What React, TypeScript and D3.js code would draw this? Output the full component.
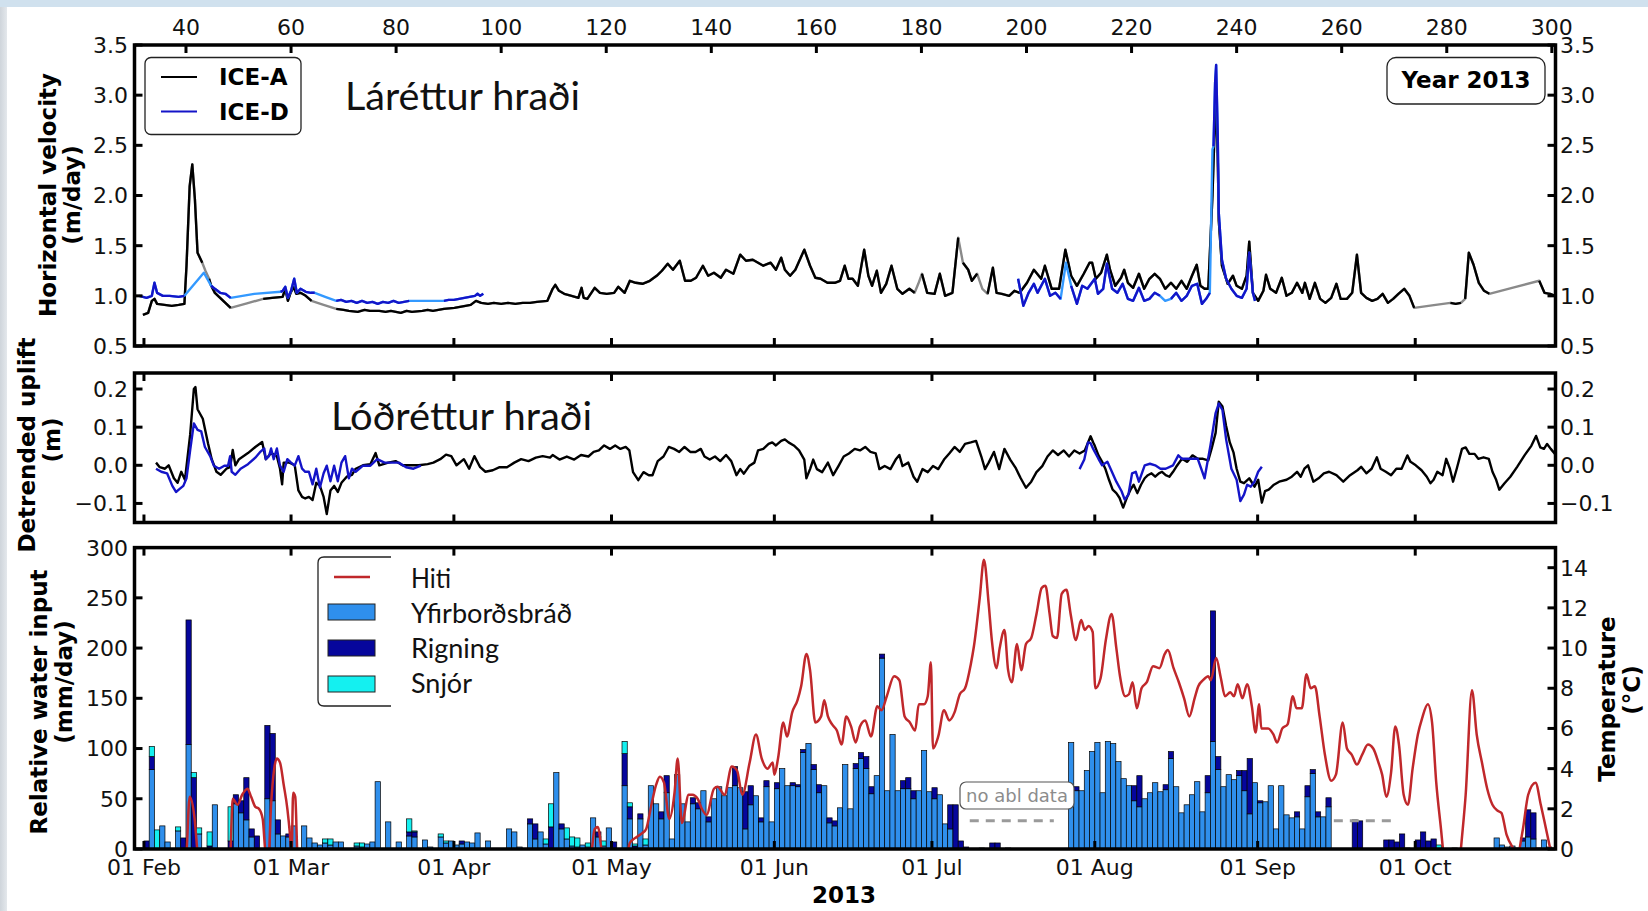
import React from "react";
import * as d3 from "d3";

type P3 = [number, number, number];
type P2 = [number, number];

// ---------- axis ticks ----------
const dayTicks = [40, 60, 80, 100, 120, 140, 160, 180, 200, 220, 240, 260, 280, 300];
const monthDays = [32, 60, 91, 121, 152, 182, 213, 244, 274];
const monthLabels = ["01 Feb", "01 Mar", "01 Apr", "01 May", "01 Jun", "01 Jul", "01 Aug", "01 Sep", "01 Oct"];
const velTicks = [0.5, 1.0, 1.5, 2.0, 2.5, 3.0, 3.5];
const upliftTicks = [-0.1, 0.0, 0.1, 0.2];
const waterTicks = [0, 50, 100, 150, 200, 250, 300];
const tempTicks = [0, 2, 4, 6, 8, 10, 12, 14];

// ---------- daily water input (mm/day), day of year 32..299 ----------
const barStartDay = 32;
const melt = [
  0, 79, 0, 23, 7, 0, 18, 0, 104, 0,
  15, 0, 0, 44, 0, 0, 0, 45, 36, 29,
  12, 0, 0, 50, 48, 15, 13, 12, 23, 0,
  23, 11, 6, 4, 6, 4, 7, 7, 0, 0,
  3, 2, 5, 7, 67, 0, 27, 0, 7, 0,
  13, 12, 0, 9, 2, 0, 12, 6, 8, 4,
  5, 7, 6, 16, 0, 8, 0, 0, 0, 20,
  17, 2, 0, 25, 10, 17, 5, 0, 76, 20,
  10, 3, 2, 4, 2, 31, 12, 3, 21, 0,
  0, 63, 30, 0, 30, 4, 63, 45, 30, 56,
  10, 74, 45, 27, 45, 40, 58, 27, 50, 62,
  53, 61, 63, 61, 20, 44, 53, 27, 62, 27,
  60, 80, 63, 63, 62, 96, 105, 79, 56, 63,
  26, 23, 41, 84, 40, 80, 90, 80, 55, 73,
  190, 58, 114, 58, 60, 60, 50, 58, 98, 57,
  50, 54, 25, 20, 0, 0, 0, 0, 0, 0,
  0, 0, 0, 0, 0, 0, 0, 0, 0, 0,
  0, 0, 0, 0, 0, 0, 106, 58, 58, 78,
  97, 106, 56, 107, 105, 87, 70, 63, 48, 42,
  50, 56, 66, 57, 59, 90, 62, 36, 44, 54,
  67, 37, 56, 107, 79, 62, 74, 69, 73, 58,
  35, 66, 46, 47, 63, 20, 63, 34, 31, 32,
  20, 52, 75, 32, 32, 42, 0, 0, 0, 0,
  0, 0, 0, 0, 0, 0, 0, 0, 0, 0,
  0, 0, 0, 0, 0, 0, 0, 0, 0, 0,
  0, 0, 0, 0, 0, 0, 0, 11, 4, 2,
  3, 1, 8, 12, 10, 1, 9, 2,
];
const rain = [
  8, 13, 0, 0, 0, 0, 0, 11, 124, 71,
  0, 0, 3, 0, 0, 0, 8, 9, 12, 42,
  8, 13, 0, 73, 67, 14, 0, 3, 0, 0,
  0, 0, 0, 0, 0, 0, 0, 0, 0, 0,
  0, 0, 0, 0, 0, 0, 0, 0, 0, 0,
  4, 5, 0, 0, 0, 0, 0, 0, 0, 0,
  3, 0, 0, 0, 0, 0, 0, 0, 0, 0,
  0, 0, 0, 5, 15, 0, 0, 22, 0, 5,
  0, 0, 0, 0, 0, 0, 5, 0, 0, 7,
  0, 32, 12, 3, 5, 0, 0, 0, 7, 17,
  0, 0, 0, 0, 6, 6, 0, 5, 0, 0,
  0, 0, 19, 0, 37, 19, 0, 4, 6, 0,
  6, 0, 0, 3, 2, 3, 0, 5, 8, 0,
  5, 5, 0, 0, 0, 5, 6, 12, 7, 0,
  4, 0, 0, 0, 8, 11, 8, 0, 0, 0,
  11, 0, 0, 24, 44, 8, 2, 0, 0, 1,
  0, 6, 6, 0, 1, 0, 0, 0, 0, 0,
  0, 0, 0, 0, 0, 0, 0, 4, 0, 0,
  0, 0, 0, 0, 0, 0, 0, 0, 15, 31,
  0, 0, 0, 0, 5, 7, 0, 0, 0, 0,
  0, 0, 17, 130, 13, 0, 0, 0, 5, 20,
  55, 0, 2, 0, 0, 0, 0, 0, 0, 5,
  0, 11, 4, 5, 0, 9, 0, 0, 0, 0,
  29, 28, 0, 0, 0, 0, 9, 9, 7, 15,
  1, 0, 9, 17, 8, 10, 0, 0, 0, 1,
  0, 0, 0, 0, 0, 0, 0, 0, 0, 0,
  0, 0, 3, 27, 26, 0, 0, 0,
];
const snow = [
  0, 10, 19, 0, 0, 0, 4, 0, 0, 5,
  6, 0, 14, 0, 0, 0, 34, 0, 0, 0,
  0, 0, 0, 0, 0, 0, 0, 0, 0, 0,
  0, 0, 0, 0, 4, 6, 0, 0, 0, 0,
  3, 4, 0, 0, 0, 0, 0, 0, 0, 0,
  13, 1, 0, 0, 0, 0, 3, 2, 0, 0,
  0, 0, 0, 0, 0, 0, 0, 0, 0, 0,
  0, 0, 0, 0, 0, 0, 5, 23, 0, 0,
  11, 9, 9, 0, 4, 0, 0, 5, 0, 0,
  0, 12, 4, 2, 0, 6, 0, 0, 0, 0,
  0, 0, 0, 0, 0, 0, 0, 0, 0, 0,
  0, 0, 0, 0, 0, 0, 0, 0, 0, 0,
  0, 0, 0, 0, 0, 0, 0, 0, 0, 0,
  0, 0, 0, 0, 0, 0, 0, 0, 0, 0,
  0, 0, 0, 0, 0, 0, 0, 0, 0, 0,
  0, 0, 0, 0, 0, 0, 0, 0, 0, 0,
  0, 0, 0, 0, 0, 0, 0, 0, 0, 0,
  0, 0, 0, 0, 0, 0, 0, 0, 0, 0,
  0, 0, 0, 0, 0, 0, 0, 0, 0, 0,
  0, 0, 0, 0, 0, 0, 0, 0, 0, 0,
  0, 0, 0, 0, 0, 0, 0, 0, 0, 0,
  0, 0, 0, 0, 0, 0, 0, 0, 0, 0,
  0, 0, 0, 0, 0, 0, 0, 0, 0, 0,
  0, 0, 0, 0, 0, 0, 0, 0, 0, 0,
  0, 0, 0, 0, 0, 0, 4, 0, 0, 0,
  0, 0, 0, 0, 0, 0, 0, 0, 0, 0,
  0, 0, 0, 0, 0, 0, 0, 0,
];

// ---------- air temperature (day, °C) ----------
const temperature: P2[] = [
  [38.5, -1.5], [40.0, -0.5], [40.7, 2.6], [41.6, 1.6], [42.3, -0.5], [43, -2],
  [48.3, -1], [48.9, 2.5], [49.8, 2.2], [50.7, 2.7], [51.7, 3.0], [52.4, 2.6], [53.2, 2.1], [53.9, 2.0], [54.6, 1.5], [55.2, -0.3], [55.7, -0.5],
  [56.2, 2.2], [56.8, 4.0], [57.3, 4.5], [57.9, 4.3], [58.6, 3.2], [59.3, 2.0], [59.8, 0.7], [60.1, -0.3], [60.4, 2.8], [60.8, 2.6], [61.2, -0.3], [62, -3],
  [116, -3], [117.2, -0.2], [117.8, 1.0], [118.4, 1.1], [119.2, -0.3], [120, -2],
  [123.5, -1], [124.5, 0.3], [125.8, 0.6], [126.9, 0.8], [127.6, 1.0], [128.6, 2.2], [129.5, 3.2], [130.2, 3.6], [131, 3.3], [132, 1.5], [133, 2.8], [133.6, 4.5], [134.4, 1.3],
  [135.7, 2.7], [136.4, 2.7], [137.4, 2.5], [138.2, 2.0], [139.1, 1.7], [140.5, 3.0], [141.2, 3.1], [142.5, 2.7], [143.9, 4.1], [144.9, 3.9], [145.9, 2.7], [147.3, 4.3],
  [148.5, 5.7], [149.6, 4.5], [150.7, 4.0], [151.7, 4.3], [152.0, 3.7], [152.7, 4.5], [153.7, 6.3], [154.4, 5.6], [155.4, 6.8], [156.4, 7.4], [157.1, 8.1], [158.1, 9.7],
  [158.8, 8.9], [159.8, 6.3], [160.9, 6.6], [161.5, 7.4], [162.2, 6.6], [163.0, 6.2], [163.9, 5.9], [164.8, 5.2], [165.7, 6.6], [166.6, 6.1], [167.5, 5.3], [168.3, 6.1],
  [169.3, 6.4], [170.4, 5.6], [171.6, 7.1], [172.4, 6.9], [173.4, 7.6], [174.8, 8.6], [175.8, 8.4], [176.8, 6.6], [177.8, 6.3], [178.8, 5.9], [179.5, 7.2], [180.5, 7.2],
  [181.2, 7.6], [181.8, 9.3], [182.2, 5.0], [183.2, 5.6], [184.3, 6.9], [185.3, 6.4], [186.3, 6.8], [187.3, 7.7], [188.3, 8.0], [189.4, 9.2], [190.0, 10.1], [191.1, 12.5],
  [191.9, 14.4], [192.8, 12.2], [193.4, 10.4], [194.3, 9.0], [194.9, 10.0], [195.8, 10.9], [196.5, 8.9], [197.2, 8.3], [198.2, 10.2], [199.0, 8.9], [199.9, 10.2], [200.9, 10.5],
  [201.9, 11.7], [202.9, 13.0], [203.6, 13.1], [204.4, 11.7], [205.0, 10.6], [205.8, 10.5], [206.7, 12.7], [207.6, 12.9], [208.4, 11.7], [209.4, 10.4], [210.4, 11.4], [211.1, 10.9],
  [211.8, 11.1], [212.6, 10.8], [213.1, 8.0], [214.1, 8.5], [215.1, 10.4], [216.2, 11.7], [217.1, 10.0], [217.8, 8.6], [218.8, 7.6], [219.5, 7.7], [220.2, 8.3], [221.0, 7.0],
  [221.9, 8.0], [222.9, 8.3], [224.1, 9.1], [225.3, 9.0], [226.3, 9.7], [226.9, 9.9], [228.0, 9.0], [229.0, 8.3], [230.0, 7.5], [231.0, 6.6], [232.0, 7.5], [232.7, 8.1],
  [233.6, 8.4], [234.6, 8.6], [235.1, 8.4], [236.1, 9.5], [237.0, 8.5], [237.8, 7.6], [238.8, 7.8], [239.5, 7.6], [240.2, 8.2], [241.1, 7.5], [242.0, 8.2], [242.9, 7.1],
  [243.6, 5.8], [244.3, 7.2], [244.7, 6.0], [246.0, 6.0], [247.0, 5.7], [247.7, 5.3], [248.7, 6.0], [249.7, 6.2], [250.7, 7.6], [251.4, 7.0], [252.4, 7.0], [253.3, 8.7],
  [254.1, 8.0], [254.9, 8.1], [255.8, 6.6], [256.8, 4.7], [258.0, 3.4], [258.9, 3.7], [260.2, 6.3], [261.0, 5.0], [261.9, 4.7], [262.9, 4.2], [263.9, 4.7], [265.0, 5.2],
  [266.0, 5.0], [267.0, 4.3], [267.7, 3.7], [268.5, 2.6], [269.4, 3.8], [270.2, 6.1], [270.9, 5.2], [271.8, 2.7], [272.6, 2.2], [273.5, 4.0], [274.5, 5.7], [275.3, 6.5],
  [276.4, 7.2], [277.2, 6.3], [278.0, 3.3], [278.9, 1.0], [279.4, -0.3], [280.5, -2], [282.1, -2], [282.6, -0.3], [283.6, 2.7], [284.8, 7.9], [285.7, 5.7], [286.7, 4.3],
  [287.7, 3.0], [288.7, 2.2], [289.7, 1.9], [290.4, 1.8], [291.4, 0.7], [292.5, 0.1], [293.5, -0.2], [294.5, 1.0], [295.5, 2.7], [296.9, 3.3], [297.9, 2.2], [298.9, 1.0],
  [299.9, -0.2], [301, -1],
];

// ---------- horizontal velocity (day, m/day, 1 = measured / 0 = interpolated / -1 = break) ----------
const velIceA: P3[] = [
  [31.8, 0.81, 1], [32.8, 0.83, 1], [33.5, 0.95, 1], [34.0, 0.97, 1], [34.5, 0.92, 1], [35.9, 0.91, 1], [37.3, 0.90, 1], [38.6, 0.91, 1], [39.7, 0.92, 1],
  [40.1, 1.30, 1], [40.7, 2.09, 1], [41.2, 2.31, 1], [41.7, 1.96, 1], [42.2, 1.43, 1], [43.1, 1.33, 1], [43.7, 1.25, 0],
  [44.4, 1.17, 1], [44.8, 1.10, 1], [45.5, 1.03, 1], [46.5, 0.98, 1], [47.5, 0.93, 1], [48.5, 0.88, 1], [51.6, 0.925, 0],
  [54.7, 0.97, 1], [56.4, 0.98, 1], [58.4, 0.99, 1], [58.9, 1.07, 1], [59.4, 0.95, 1], [59.9, 1.03, 1], [60.5, 1.09, 1], [61.0, 1.02, 1], [61.8, 1.03, 1], [62.8, 1.0, 1], [63.9, 0.95, 1], [66.2, 0.91, 0],
  [68.6, 0.87, 1], [70, 0.86, 1], [71, 0.85, 1], [72.7, 0.84, 1], [74, 0.86, 1], [75, 0.85, 1], [76.8, 0.85, 1], [78, 0.84, 1], [79, 0.85, 1], [80.9, 0.83, 1],
  [82, 0.85, 1], [83, 0.84, 1], [85.0, 0.85, 1], [86, 0.86, 1], [87, 0.85, 1], [89.1, 0.87, 1], [91.1, 0.88, 1], [93.2, 0.90, 1], [94.2, 0.91, 1], [95.2, 0.95, 1],
  [96.2, 0.93, 1], [97.5, 0.92, 1], [98.6, 0.93, 1], [100, 0.92, 1], [101.3, 0.93, 1], [102.7, 0.92, 1], [104.1, 0.93, 1], [105.5, 0.93, 1], [106.8, 0.94, 1], [108.8, 0.95, 1],
  [109.8, 1.07, 1], [110.3, 1.11, 1], [111.0, 1.05, 1], [112.0, 1.02, 1], [113.4, 1.0, 1], [114.7, 0.98, 1], [115.3, 1.08, 1], [115.7, 0.98, 1], [116.4, 0.97, 1], [117.8, 1.08, 1],
  [118.8, 1.03, 1], [120.1, 1.02, 1], [121.5, 1.03, 1], [122.3, 1.09, 1], [123.5, 1.03, 1], [124.5, 1.15, 1], [125.6, 1.13, 1], [126.9, 1.12, 1], [128.3, 1.15, 1], [129.6, 1.20, 1],
  [130.6, 1.25, 1], [131.7, 1.32, 1], [132.7, 1.26, 1], [134.0, 1.35, 1], [135.0, 1.15, 1], [136.1, 1.15, 1], [137.1, 1.18, 1], [138.4, 1.30, 1], [139.4, 1.20, 1], [140.5, 1.23, 1],
  [141.8, 1.18, 1], [142.8, 1.26, 1], [144.2, 1.22, 1], [145.5, 1.41, 1], [146.6, 1.35, 1], [147.9, 1.36, 1], [148.9, 1.33, 1], [149.9, 1.30, 1], [151.3, 1.33, 1], [152.3, 1.26, 1],
  [153.3, 1.38, 1], [154.0, 1.26, 1], [155.0, 1.20, 1], [156.0, 1.26, 1], [157.7, 1.46, 1], [158.8, 1.30, 1], [159.8, 1.18, 1], [160.8, 1.17, 1], [162.1, 1.13, 1], [163.5, 1.13, 1],
  [164.5, 1.15, 1], [165.4, 1.30, 1], [166.1, 1.17, 1], [166.9, 1.17, 1], [167.9, 1.10, 1], [169.1, 1.46, 1], [169.9, 1.20, 1], [170.6, 1.10, 1], [171.5, 1.25, 1], [172.3, 1.03, 1],
  [173.3, 1.12, 1], [174.3, 1.30, 1], [175.4, 1.07, 1], [176.4, 1.02, 1], [177.7, 1.07, 1], [178.7, 1.03, 1], [179.4, 1.12, 0],
  [180.1, 1.22, 1], [181.1, 1.03, 1], [182.5, 1.02, 1], [183.5, 1.22, 1], [184.5, 1.0, 1], [185.9, 1.03, 1], [187.0, 1.58, 1], [187.4, 1.47, 0],
  [187.9, 1.33, 1], [188.9, 1.26, 1], [189.6, 1.15, 1], [190.6, 1.22, 1], [191.6, 1.07, 0],
  [192.6, 1.02, 1], [193.6, 1.28, 1], [194.3, 1.03, 1], [195.3, 1.02, 1], [196.7, 1.0, 1], [197.7, 1.05, 1], [198.7, 1.03, 1], [200.1, 1.13, 1], [201.4, 1.26, 1], [202.8, 1.17, 1],
  [203.5, 1.30, 1], [204.8, 1.07, 1], [206.2, 1.07, 1], [207.4, 1.46, 1], [208.5, 1.20, 1], [209.6, 1.10, 1], [210.9, 1.22, 1], [212.0, 1.33, 1], [212.5, 1.33, 1], [213.2, 1.17, 1],
  [214.2, 1.23, 1], [215.3, 1.41, 1], [215.9, 1.26, 1], [216.9, 1.10, 1], [218.0, 1.18, 1], [218.6, 1.26, 1], [219.3, 1.13, 1], [220.3, 1.08, 1], [221.4, 1.22, 1], [222.4, 1.07, 1],
  [223.4, 1.17, 1], [224.4, 1.22, 1], [225.4, 1.17, 1], [226.4, 1.07, 1], [227.5, 1.13, 1], [228.5, 1.07, 1], [229.5, 1.15, 1], [230.5, 1.07, 1], [231.5, 1.20, 1], [232.4, 1.31, 1],
  [233.1, 1.10, 1], [233.9, 1.07, 1], [234.6, 1.07, 1], [235.4, 2.0, 1], [235.9, 2.8, 1], [236.1, 2.9, 1], [236.4, 2.4, 1], [236.6, 1.75, 1], [237.2, 1.3, 1], [238.3, 1.12, 1],
  [239.3, 1.20, 1], [240.0, 1.10, 1], [241.0, 1.07, 1], [241.9, 1.20, 1], [242.4, 1.54, 1], [243.1, 1.03, 1], [244.1, 0.95, 1], [245.1, 1.05, 1], [245.6, 1.21, 1], [246.4, 1.07, 1],
  [247.5, 1.03, 1], [248.6, 1.18, 1], [249.5, 1.0, 1], [250.5, 1.03, 1], [251.5, 1.13, 1], [252.5, 1.03, 1], [253.0, 1.13, 1], [253.9, 0.97, 1], [254.9, 1.13, 1], [255.9, 0.97, 1],
  [256.9, 0.93, 1], [258.0, 0.98, 1], [259.0, 1.12, 1], [259.8, 0.97, 1], [261.0, 0.97, 1], [262.0, 1.03, 1], [262.9, 1.41, 1], [263.7, 1.03, 1], [264.7, 0.98, 1], [265.8, 0.95, 1],
  [266.8, 0.97, 1], [267.8, 1.02, 1], [268.8, 0.93, 1], [269.8, 0.97, 1], [270.8, 1.02, 1], [271.9, 1.07, 1], [272.9, 1.0, 1], [273.8, 0.88, 1], [277.2, 0.905, 0],
  [280.7, 0.93, 1], [281.7, 0.92, 1], [282.7, 0.93, 1], [283.1, 0.95, 0],
  [283.5, 0.97, 1], [284.2, 1.43, 1], [285.1, 1.31, 1], [286.1, 1.13, 1], [287.1, 1.05, 1], [288.1, 1.02, 1], [292.8, 1.085, 0],
  [297.6, 1.15, 1], [298.6, 1.03, 1], [299.7, 1.02, 1], [300.6, 1.0, 1],
];
const velIceD: P3[] = [
  [31.1, 1.0, 1], [32.5, 0.98, 1], [33.5, 1.0, 1], [34.0, 1.13, 1], [34.5, 1.03, 1], [35.6, 1.0, 1], [36.9, 1.0, 1], [38.6, 0.99, 1], [39.7, 1.0, 1],
  [43.4, 1.23, 0],
  [44.8, 1.10, 1], [45.5, 1.07, 1], [46.5, 1.03, 1], [47.5, 1.02, 1], [48.5, 0.98, 1],
  [53, 1.02, 0],
  [58.0, 1.04, 1], [58.4, 1.05, 1], [58.9, 1.09, 1], [59.4, 0.98, 1], [60.0, 1.05, 1], [60.6, 1.17, 1], [61.1, 1.03, 1], [61.8, 1.07, 1], [62.8, 1.04, 1], [63.8, 1.03, 1], [64.5, 1.03, 1],
  [66.5, 0.99, 0],
  [68.6, 0.95, 1], [69.5, 0.96, 1], [70.5, 0.94, 1], [71.5, 0.95, 1], [72.5, 0.93, 1], [73.5, 0.95, 1], [74.5, 0.93, 1], [75.5, 0.94, 1], [76.5, 0.92, 1], [77.5, 0.94, 1],
  [78.5, 0.93, 1], [79.5, 0.95, 1], [80.5, 0.93, 1], [81.5, 0.94, 1], [82.5, 0.95, 1],
  [86, 0.95, 0],
  [89.1, 0.95, 1], [90, 0.96, 1], [91, 0.96, 1], [92, 0.97, 1], [93, 0.98, 1], [94, 0.99, 1], [95, 1.0, 1], [95.5, 1.02, 1], [96, 1.0, 1], [96.6, 1.02, 1],
  [150, 1.0, -1],
  [198.4, 1.17, 1], [199.4, 0.90, 1], [200.4, 1.03, 1], [201.4, 1.12, 1], [202.1, 1.03, 1], [203.5, 1.17, 1], [204.5, 1.0, 1], [205.5, 1.03, 1], [206.5, 0.97, 1],
  [207.5, 1.33, 0],
  [208.5, 1.10, 1], [209.6, 0.92, 1], [210.6, 1.10, 1], [211.6, 1.07, 1], [213.0, 1.17, 1], [213.6, 1.02, 1], [214.6, 1.07, 1], [215.3, 1.32, 1], [216.3, 1.07, 1], [217.3, 1.03, 1],
  [218.3, 1.12, 1], [219.3, 0.97, 1], [220.3, 0.95, 1], [221.4, 1.08, 1], [222.4, 0.95, 1], [223.4, 0.97, 1], [224.4, 1.03, 1], [225.4, 1.0, 1],
  [226.4, 0.95, 0],
  [227.5, 0.97, 1], [228.5, 1.03, 1], [229.5, 0.95, 1], [230.5, 1.0, 1], [231.5, 1.10, 1], [232.5, 1.12, 1], [233.4, 0.92, 1], [234.2, 0.97, 1], [234.9, 1.03, 1],
  [235.4, 2.46, 0],
  [235.6, 2.49, 1], [235.9, 3.12, 1], [236.1, 3.30, 1], [236.4, 2.62, 1], [236.6, 1.83, 1], [237.2, 1.36, 1], [238.0, 1.17, 1], [239.0, 1.07, 1], [240.0, 1.0, 1],
  [241.0, 0.98, 1], [241.9, 1.07, 1], [242.4, 1.43, 1], [243.1, 1.03, 1], [243.5, 0.95, 1],
];

// ---------- detrended uplift (day, m) ----------
const upliftIceA: P2[] = [
  [34.3, 0.007], [35.0, -0.005], [36.0, -0.009], [36.7, 0.0], [37.7, -0.034], [38.4, -0.046], [39.1, -0.017], [39.8, -0.038], [40.8, 0.081], [41.5, 0.2],
  [41.8, 0.205], [42.2, 0.147], [43.2, 0.122], [44.2, 0.057], [44.9, 0.016], [45.8, -0.017], [46.6, -0.025], [47.7, -0.009], [48.4, -0.005], [48.9, 0.04],
  [49.4, 0.0], [50.1, 0.016], [51.8, 0.032], [53.2, 0.048], [54.5, 0.061], [55.2, 0.016], [56.2, 0.032], [57.3, 0.024], [57.9, -0.009], [58.3, -0.05],
  [58.6, 0.007], [59.7, 0.007], [60.7, 0.0], [61.4, -0.066], [62.1, -0.083], [62.7, -0.087], [63.4, -0.083], [64.1, -0.091], [64.8, -0.046], [65.5, -0.054],
  [66.2, -0.083], [66.8, -0.128], [67.5, -0.066], [68.2, -0.054], [68.9, -0.07], [69.6, -0.046], [70.6, -0.03], [71.6, -0.025], [72.3, -0.009], [73.7, 0.0],
  [75.1, 0.003], [76.1, 0.032], [76.8, 0.0], [78.5, 0.007], [79.9, 0.011], [81.2, 0.0], [82.6, 0.0], [84.3, 0.0], [86.0, 0.003], [87.1, 0.007],
  [88.4, 0.016], [89.5, 0.028], [90.5, 0.024], [91.5, 0.0], [92.9, 0.016], [93.9, -0.009], [94.9, 0.024], [96.0, -0.005], [97.0, -0.017], [98.4, -0.013],
  [99.7, -0.005], [101.1, -0.005], [102.5, 0.007], [103.8, 0.016], [105.2, 0.011], [106.6, 0.02], [107.9, 0.024], [109.3, 0.02], [109.8, 0.027], [111.1, 0.015],
  [112.5, 0.023], [113.9, 0.015], [115.2, 0.027], [116.6, 0.023], [117.6, 0.035], [118.6, 0.039], [119.6, 0.052], [120.7, 0.043], [121.7, 0.052], [122.7, 0.043],
  [123.7, 0.048], [124.4, 0.039], [125.1, -0.018], [126.1, -0.039], [127.1, -0.018], [128.1, -0.026], [128.8, -0.026], [129.8, 0.011], [130.9, 0.023], [131.9, 0.048],
  [132.9, 0.043], [133.9, 0.035], [134.9, 0.048], [136.0, 0.035], [137.0, 0.035], [138.0, 0.043], [138.7, 0.023], [139.7, 0.015], [140.7, 0.023], [141.7, 0.011],
  [142.8, 0.027], [143.8, 0.011], [144.8, -0.026], [145.5, -0.01], [146.2, -0.022], [147.2, -0.002], [148.2, 0.007], [148.9, 0.039], [149.9, 0.043], [150.9, 0.056],
  [151.6, 0.06], [152.3, 0.052], [153.3, 0.064], [154.0, 0.068], [154.7, 0.06], [155.7, 0.052], [156.7, 0.039], [157.7, 0.015], [158.1, -0.034], [158.8, -0.01],
  [159.4, 0.015], [160.1, -0.01], [161.1, -0.018], [162.2, 0.007], [163.2, -0.026], [164.2, -0.002], [165.2, 0.023], [166.2, 0.031], [167.3, 0.043], [168.3, 0.039],
  [169.3, 0.048], [170.3, 0.035], [171.3, 0.031], [172.0, -0.01], [173.0, -0.002], [174.1, -0.01], [175.1, 0.015], [175.8, 0.027], [176.4, -0.002], [177.5, 0.007],
  [178.5, -0.03], [179.2, -0.043], [180.2, -0.01], [181.2, -0.018], [182.2, -0.002], [183.2, -0.01], [184.3, 0.015], [185.3, 0.031], [186.3, 0.048], [187.3, 0.035],
  [188.3, 0.056], [189.4, 0.06], [190.4, 0.064], [191.4, 0.023], [192.1, -0.01], [192.8, 0.007], [193.8, 0.035], [194.8, -0.01], [195.8, 0.043], [196.9, 0.015],
  [197.9, -0.006], [198.9, -0.034], [199.9, -0.059], [200.9, -0.043], [201.9, -0.018], [203.0, -0.002], [204.0, 0.023], [205.0, 0.039], [206.0, 0.027], [207.1, 0.039],
  [208.1, 0.023], [209.1, 0.039], [210.1, 0.031], [211.1, 0.039], [212.2, 0.076], [212.7, 0.06], [213.0, 0.051], [213.7, 0.026], [214.4, 0.009], [215.0, -0.009],
  [215.7, -0.038], [216.4, -0.064], [217.1, -0.073], [217.7, -0.085], [218.4, -0.111], [219.1, -0.085], [219.8, -0.064], [220.4, -0.051], [221.1, -0.073], [221.8, -0.051],
  [222.5, -0.034], [223.1, -0.026], [223.8, -0.021], [224.5, -0.03], [225.2, -0.021], [225.8, -0.017], [226.5, -0.026], [227.2, -0.03], [227.9, -0.017], [228.5, -0.004],
  [229.6, 0.017], [230.6, 0.009], [231.6, 0.026], [232.6, 0.017], [233.6, 0.017], [234.6, 0.013], [235.3, 0.047], [236.0, 0.085], [236.6, 0.167], [237.3, 0.154],
  [238.0, 0.103], [238.7, 0.06], [239.4, 0.034], [240.0, -0.009], [240.7, -0.043], [241.4, -0.047], [242.4, -0.034], [243.4, -0.056], [244.1, -0.038], [244.8, -0.098],
  [245.4, -0.068], [246.1, -0.064], [247.1, -0.051], [248.1, -0.043], [249.5, -0.038], [250.5, -0.03], [251.5, -0.017], [252.2, -0.03], [252.9, -0.009], [253.6, 0.0],
  [254.6, -0.043], [255.6, -0.034], [256.6, -0.021], [257.6, -0.017], [259.0, -0.026], [260.3, -0.043], [261.6, -0.026], [263.0, -0.013], [263.7, -0.004], [264.7, -0.021],
  [265.7, -0.009], [266.7, 0.021], [267.4, -0.009], [268.4, -0.017], [269.4, -0.026], [270.4, -0.009], [271.4, -0.009], [272.5, 0.026], [273.1, 0.009], [274.1, 0.0],
  [275.2, -0.013], [276.2, -0.03], [276.9, -0.047], [277.5, -0.038], [278.2, -0.017], [279.2, -0.026], [279.9, 0.017], [280.6, -0.009], [281.2, -0.043], [281.9, -0.009],
  [282.9, 0.043], [283.6, 0.047], [284.3, 0.03], [285.3, 0.03], [286.0, 0.017], [287.0, 0.021], [288.0, 0.017], [288.7, -0.017], [289.4, -0.038], [290.0, -0.064],
  [291.0, -0.047], [292.1, -0.03], [293.4, -0.004], [294.8, 0.026], [296.1, 0.051], [297.0, 0.077], [297.8, 0.047], [298.5, 0.043], [299.1, 0.056], [299.8, 0.043], [300.6, 0.03],
];
const upliftIceD: P2[] = [
  [34.3, -0.009], [35.3, -0.017], [36.4, -0.021], [37.4, -0.054], [38.1, -0.07], [38.8, -0.062], [39.5, -0.054], [40.1, -0.034], [40.8, 0.04], [41.5, 0.11],
  [42.2, 0.093], [42.9, 0.089], [43.6, 0.048], [44.6, 0.024], [45.3, -0.001], [46.3, -0.009], [47.3, -0.001], [48.0, -0.001], [48.4, 0.024], [48.7, -0.017],
  [49.4, -0.025], [50.4, -0.009], [51.8, 0.003], [53.2, 0.02], [54.2, 0.036], [54.9, 0.044], [55.2, 0.016], [55.8, 0.024], [56.2, 0.044], [56.7, 0.016],
  [57.3, 0.044], [57.9, -0.001], [58.6, -0.017], [59.3, 0.016], [60.0, 0.007], [60.7, -0.001], [61.4, 0.024], [62.1, -0.009], [62.7, -0.017], [63.4, -0.017],
  [64.1, -0.05], [64.8, -0.009], [65.5, -0.058], [66.2, -0.021], [66.8, -0.001], [67.5, -0.042], [68.2, -0.001], [68.9, -0.042], [69.6, 0.007], [70.3, 0.024],
  [71.0, -0.034], [71.6, -0.009], [72.3, -0.017], [73.7, -0.001], [75.1, -0.001], [76.4, 0.016], [77.8, 0.007], [79.2, 0.007], [80.5, 0.007], [81.9, -0.005],
  [83.3, -0.009], [84.7, -0.001],
  [150, NaN],
  [210.1, -0.01], [211.0, 0.015], [211.7, 0.06], [212.2, 0.058], [212.7, 0.043], [213.7, 0.017], [214.4, 0.0], [215.4, 0.009], [216.0, -0.009], [217.1, -0.043],
  [218.1, -0.068], [218.7, -0.09], [219.4, -0.077], [220.1, -0.021], [220.8, -0.017], [221.4, -0.043], [222.5, 0.0], [223.5, 0.004], [224.5, 0.0], [225.5, -0.009],
  [226.5, -0.009], [227.9, 0.0], [228.9, 0.026], [229.6, 0.017], [230.6, 0.017], [231.6, 0.017], [232.6, 0.017], [233.9, -0.034], [235.0, 0.051], [236.0, 0.137],
  [236.6, 0.162], [237.3, 0.145], [238.0, 0.068], [239.0, -0.009], [240.0, -0.038], [240.7, -0.094], [241.4, -0.077], [242.0, -0.051], [242.7, -0.056], [243.4, -0.043],
  [244.1, -0.017], [244.8, -0.004],
];

// ---------- "no abl data" periods (day range, plotted level mm/day) ----------
const noAblPeriods: P2[] = [[189.2, 205.2], [258.5, 269.5]];
const noAblLevel = 28;

// ---------- style ----------
const C_MELT = "#2f8fec";
const C_RAIN = "#06069c";
const C_SNOW = "#14f0f0";
const C_RED = "#c0282b";
const C_BLUE = "#1414c8";
const C_LIGHTBLUE = "#3399ff";
const C_GRAY = "#8a8a8a";
const TICKFONT = "DejaVu Sans, Verdana, sans-serif";
const OVERFONT = "Lato, 'Open Sans', sans-serif";

export default function App() {
  const W = 1648, H = 911;
  const L = 134.5, R = 1555.5;
  const top = { y0: 45, y1: 346 };
  const mid = { y0: 373, y1: 522.5 };
  const bot = { y0: 547.6, y1: 849 };

  const x = d3.scaleLinear().domain([30.2, 300.7]).range([L, R]);
  const yV = d3.scaleLinear().domain([0.5, 3.5]).range([top.y1, top.y0]);
  const yU = d3.scaleLinear().domain([-0.15, 0.242]).range([mid.y1, mid.y0]);
  const yW = d3.scaleLinear().domain([0, 300]).range([bot.y1, bot.y0]);
  const yT = d3.scaleLinear().domain([0, 15]).range([bot.y1, bot.y0]);

  const velAll = d3.line<P3>().defined((d) => d[2] >= 0).x((d) => x(d[0])).y((d) => yV(d[1]));
  const velMeas = d3.line<P3>().defined((d) => d[2] === 1).x((d) => x(d[0])).y((d) => yV(d[1]));
  const upLine = d3.line<P2>().defined((d) => !isNaN(d[1])).x((d) => x(d[0])).y((d) => yU(d[1]));
  const tLine = d3.line<P2>().x((d) => x(d[0])).y((d) => yT(d[1])).curve(d3.curveMonotoneX);

  const TL = 8;
  const fmt1 = (v: number) => (v < 0 ? "\u2212" : "") + Math.abs(v).toFixed(1);

  const frame = (p: { y0: number; y1: number }, key: string, topTicks: number[], ticksY: number[], sL: (v: number) => number, sR: (v: number) => number, ticksYR: number[]) => (
    <g key={key}>
      {topTicks.map((d) => (
        <line key={"t" + d} x1={x(d)} x2={x(d)} y1={p.y0} y2={p.y0 + TL} stroke="#000" strokeWidth={3} />
      ))}
      {monthDays.map((d) => (
        <line key={"b" + d} x1={x(d)} x2={x(d)} y1={p.y1} y2={p.y1 - TL} stroke="#000" strokeWidth={3} />
      ))}
      {ticksY.map((v) => (
        <line key={"l" + v} x1={L} x2={L + TL} y1={sL(v)} y2={sL(v)} stroke="#000" strokeWidth={3} />
      ))}
      {ticksYR.map((v) => (
        <line key={"r" + v} x1={R} x2={R - TL} y1={sR(v)} y2={sR(v)} stroke="#000" strokeWidth={3} />
      ))}
      <rect x={L} y={p.y0} width={R - L} height={p.y1 - p.y0} fill="none" stroke="#000" strokeWidth={3.5} />
    </g>
  );

  // stacked daily bars: melt (bottom), rain, snow (top)
  const barRects: JSX.Element[] = [];
  melt.forEach((m, i) => {
    const day = barStartDay + i;
    const x0 = x(day), x1 = x(day + 1);
    let base = 0;
    const parts: [number, string][] = [[m, C_MELT], [rain[i], C_RAIN], [snow[i], C_SNOW]];
    parts.forEach(([v, c], k) => {
      if (v > 0) {
        barRects.push(
          <rect key={`b${i}_${k}`} x={x0} width={x1 - x0} y={yW(base + v)} height={yW(base) - yW(base + v)} fill={c} stroke="#000" strokeWidth={0.7} />
        );
        base += v;
      }
    });
  });

  const vTitle = (tx: number, ty: number, text: string, key: string) => (
    <text key={key} transform={`translate(${tx},${ty}) rotate(-90)`} textAnchor="middle" fontFamily={TICKFONT} fontWeight="bold" fontSize={23} fill="#000">
      {text}
    </text>
  );

  return (
    <div style={{ position: "absolute", left: 0, top: 0, width: W, height: H, overflow: "hidden" }}>
      <svg width={W} height={H} viewBox={`0 0 ${W} ${H}`} style={{ display: "block" }}>
        <defs>
          <clipPath id="cTop"><rect x={L} y={top.y0} width={R - L} height={top.y1 - top.y0} /></clipPath>
          <clipPath id="cMid"><rect x={L} y={mid.y0} width={R - L} height={mid.y1 - mid.y0} /></clipPath>
          <clipPath id="cBot"><rect x={L} y={bot.y0} width={R - L} height={bot.y1 - bot.y0} /></clipPath>
          <linearGradient id="leftStrip" x1="0" x2="1" y1="0" y2="0">
            <stop offset="0" stopColor="#cfd5db" />
            <stop offset="1" stopColor="#e4e8ec" />
          </linearGradient>
        </defs>

        {/* slide background */}
        <rect x={0} y={0} width={W} height={H} fill="#ffffff" />
        <rect x={0} y={0} width={W} height={7} fill="#d0e1ee" />
        <rect x={0} y={7} width={7} height={H - 7} fill="url(#leftStrip)" />

        {/* ---------- top panel data ---------- */}
        <g clipPath="url(#cTop)" fill="none" strokeLinejoin="round">
          <path d={velAll(velIceA) || ""} stroke={C_GRAY} strokeWidth={2.4} />
          <path d={velMeas(velIceA) || ""} stroke="#000" strokeWidth={2.4} />
          <path d={velAll(velIceD) || ""} stroke={C_LIGHTBLUE} strokeWidth={2.4} />
          <path d={velMeas(velIceD) || ""} stroke={C_BLUE} strokeWidth={2.4} />
        </g>

        {/* ---------- middle panel data ---------- */}
        <g clipPath="url(#cMid)" fill="none" strokeLinejoin="round">
          <path d={upLine(upliftIceA) || ""} stroke="#000" strokeWidth={2.4} />
          <path d={upLine(upliftIceD) || ""} stroke={C_BLUE} strokeWidth={2.4} />
        </g>

        {/* ---------- bottom panel data ---------- */}
        <g clipPath="url(#cBot)">
          {barRects}
          {noAblPeriods.map(([a, b], i) => (
            <line key={"na" + i} x1={x(a)} x2={x(b)} y1={yW(noAblLevel)} y2={yW(noAblLevel)} stroke="#9a9a9a" strokeWidth={3} strokeDasharray="9 7" />
          ))}
          <path d={tLine(temperature) || ""} fill="none" stroke={C_RED} strokeWidth={2.5} strokeLinejoin="round" />
        </g>

        {/* frames and ticks */}
        {frame(top, "ft", dayTicks, velTicks, yV, yV, velTicks)}
        {frame(mid, "fm", monthDays, upliftTicks, yU, yU, upliftTicks)}
        {frame(bot, "fb", monthDays, waterTicks, yW, yT, tempTicks)}

        {/* tick labels */}
        <g fontFamily={TICKFONT} fontSize={22} fill="#111">
          {dayTicks.map((d) => (
            <text key={"dl" + d} x={x(d)} y={35} textAnchor="middle">{d}</text>
          ))}
          {velTicks.map((v) => (
            <text key={"vl" + v} x={128} y={yV(v)} dy="0.36em" textAnchor="end">{v.toFixed(1)}</text>
          ))}
          {velTicks.map((v) => (
            <text key={"vr" + v} x={1560} y={yV(v)} dy="0.36em" textAnchor="start">{v.toFixed(1)}</text>
          ))}
          {upliftTicks.map((v) => (
            <text key={"ul" + v} x={128} y={yU(v)} dy="0.36em" textAnchor="end">{fmt1(v)}</text>
          ))}
          {upliftTicks.map((v) => (
            <text key={"ur" + v} x={1560} y={yU(v)} dy="0.36em" textAnchor="start">{fmt1(v)}</text>
          ))}
          {waterTicks.map((v) => (
            <text key={"wl" + v} x={128} y={yW(v)} dy="0.36em" textAnchor="end">{v}</text>
          ))}
          {tempTicks.map((v) => (
            <text key={"tr" + v} x={1560} y={yT(v)} dy="0.36em" textAnchor="start">{v}</text>
          ))}
          {monthDays.map((d, i) => (
            <text key={"ml" + d} x={x(d)} y={875} textAnchor="middle">{monthLabels[i]}</text>
          ))}
        </g>
        <text x={844} y={903} textAnchor="middle" fontFamily={TICKFONT} fontWeight="bold" fontSize={23}>2013</text>

        {/* axis titles */}
        {vTitle(56, 195, "Horizontal velocity", "t1")}
        {vTitle(80, 195, "(m/day)", "t2")}
        {vTitle(35, 445, "Detrended uplift", "t3")}
        {vTitle(60, 440, "(m)", "t4")}
        {vTitle(47, 702, "Relative water input", "t5")}
        {vTitle(72, 682, "(mm/day)", "t6")}
        {vTitle(1615, 699, "Temperature", "t7")}
        {vTitle(1640, 690, "(\u00b0C)", "t8")}

        {/* top legend */}
        <rect x={145} y={57.5} width={156} height={77} rx={6} fill="#fff" stroke="#222" strokeWidth={1.3} />
        <line x1={161} x2={197} y1={77} y2={77} stroke="#000" strokeWidth={2.2} />
        <line x1={161} x2={197} y1={111.5} y2={111.5} stroke={C_BLUE} strokeWidth={2.2} />
        <text x={219} y={85} fontFamily={TICKFONT} fontWeight="bold" fontSize={23}>ICE-A</text>
        <text x={219} y={119.5} fontFamily={TICKFONT} fontWeight="bold" fontSize={23}>ICE-D</text>

        {/* year box */}
        <rect x={1387} y={57.5} width={158} height={46.5} rx={9} fill="#fff" stroke="#222" strokeWidth={1.3} />
        <text x={1466} y={88} textAnchor="middle" fontFamily={TICKFONT} fontWeight="bold" fontSize={23}>Year 2013</text>

        {/* overlay titles */}
        <text x={345} y={110} fontFamily={OVERFONT} fontSize={38} textLength={235} lengthAdjust="spacingAndGlyphs" fill="#111">Láréttur hraði</text>
        <text x={331} y={430} fontFamily={OVERFONT} fontSize={38} textLength={261} lengthAdjust="spacingAndGlyphs" fill="#111">Lóðréttur hraði</text>

        {/* bottom legend */}
        <rect x={318} y={557} width={73} height={149} fill="#fff" />
        <path d="M391,557 L324,557 Q318,557 318,563 L318,700 Q318,706 324,706 L391,706" fill="none" stroke="#222" strokeWidth={1.3} />
        <line x1={334} x2={370} y1={577} y2={577} stroke={C_RED} strokeWidth={2.5} />
        <rect x={328} y={604} width={47} height={16} fill={C_MELT} stroke="#222" strokeWidth={1} />
        <rect x={328} y={640} width={47} height={16} fill={C_RAIN} stroke="#222" strokeWidth={1} />
        <rect x={328} y={676} width={47} height={16} fill={C_SNOW} stroke="#222" strokeWidth={1} />
        <g fontFamily={OVERFONT} fontSize={27} fill="#111">
          <text x={411} y={588} textLength={40} lengthAdjust="spacingAndGlyphs">Hiti</text>
          <text x={411} y={623} textLength={161} lengthAdjust="spacingAndGlyphs">Yfirborðsbráð</text>
          <text x={411} y={658} textLength={88} lengthAdjust="spacingAndGlyphs">Rigning</text>
          <text x={411} y={693} textLength={61} lengthAdjust="spacingAndGlyphs">Snjór</text>
        </g>

        {/* no abl data annotation */}
        <rect x={960} y={782} width={114} height={27} rx={6} fill="#fff" stroke="#555" strokeWidth={1.2} />
        <text x={1017} y={802} textAnchor="middle" fontFamily={TICKFONT} fontSize={18} fill="#8c8c8c">no abl data</text>
      </svg>
    </div>
  );
}
